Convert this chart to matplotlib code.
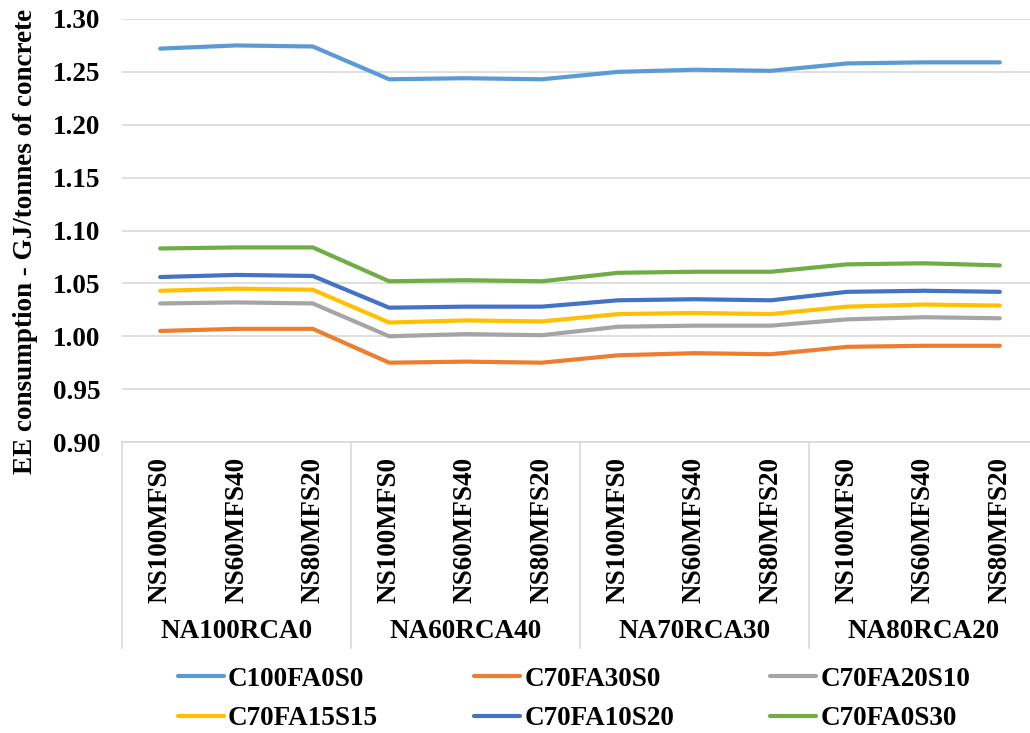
import matplotlib
matplotlib.use("Agg")
import matplotlib.pyplot as plt
import matplotlib.transforms as mtransforms
from matplotlib.lines import Line2D

groups = ["NA100RCA0", "NA60RCA40", "NA70RCA30", "NA80RCA20"]
sands = ["NS100MFS0", "NS60MFS40", "NS80MFS20"]
categories = [s for g in groups for s in sands]

series_names = ["C100FA0S0", "C70FA30S0", "C70FA20S10",
                "C70FA15S15", "C70FA10S20", "C70FA0S30"]
c100fa0s0 = [1.272, 1.275, 1.274, 1.243, 1.244, 1.243, 1.250, 1.252, 1.251, 1.258, 1.259, 1.259]
c70fa30s0 = [1.005, 1.007, 1.007, 0.975, 0.976, 0.975, 0.982, 0.984, 0.983, 0.990, 0.991, 0.991]
c70fa20s10 = [1.031, 1.032, 1.031, 1.000, 1.002, 1.001, 1.009, 1.010, 1.010, 1.016, 1.018, 1.017]
c70fa15s15 = [1.043, 1.045, 1.044, 1.013, 1.015, 1.014, 1.021, 1.022, 1.021, 1.028, 1.030, 1.029]
c70fa10s20 = [1.056, 1.058, 1.057, 1.027, 1.028, 1.028, 1.034, 1.035, 1.034, 1.042, 1.043, 1.042]
c70fa0s30 = [1.083, 1.084, 1.084, 1.052, 1.053, 1.052, 1.060, 1.061, 1.061, 1.068, 1.069, 1.067]
series_values = [c100fa0s0, c70fa30s0, c70fa20s10, c70fa15s15, c70fa10s20, c70fa0s30]
colors = ["#5B9BD5", "#ED7D31", "#A5A5A5", "#FFC000", "#4472C4", "#70AD47"]

yticks = [0.90, 0.95, 1.00, 1.05, 1.10, 1.15, 1.20, 1.25, 1.30]

plt.rcParams['font.family'] = ['Liberation Serif', 'DejaVu Serif']
plt.rcParams['font.weight'] = 'bold'
fs = 19.5
grid_col = "#D9D9D9"

fig = plt.figure(figsize=(10.30, 7.33), dpi=100)
W, H = 1030, 733
ax = fig.add_axes([122 / W, 1 - 442 / H, 916 / W, 423 / H])

x = list(range(len(categories)))
handles = []
for name, vals, col in zip(series_names, series_values, colors):
    h, = ax.plot(x, vals, color=col, lw=3.0, solid_capstyle='round', label=name)
    handles.append(h)

ax.set_xlim(-0.5, len(categories) - 0.5)
ax.set_ylim(0.90, 1.30)
ax.set_yticks(yticks)
ax.set_yticklabels([f"{v:.2f}" for v in yticks], fontsize=fs, fontweight='bold')
ax.yaxis.grid(True, color=grid_col, lw=1.2)
ax.set_axisbelow(True)
ax.tick_params(axis='both', length=0)
ax.tick_params(axis='y', pad=15.5)
ax.set_xticks(x)
ax.set_xticklabels(categories, rotation=90, fontsize=fs, fontweight='bold')
ax.tick_params(axis='x', pad=10.5)

for s in ['top', 'right', 'left']:
    ax.spines[s].set_visible(False)
ax.spines['bottom'].set_color(grid_col)
ax.spines['bottom'].set_linewidth(1.2)

ax.set_ylabel("EE consumption - GJ/tonnes of concrete", fontsize=fs, fontweight='bold')
ax.yaxis.set_label_coords(-0.092, 0.475)

# group separators and group labels
trans = mtransforms.blended_transform_factory(ax.transData, ax.transAxes)
for i in range(len(groups) + 1):
    xs = i * len(sands) - 0.5
    ax.add_line(Line2D([xs, xs], [0, -0.487], transform=trans, color=grid_col,
                       lw=1.2, clip_on=False))
for i, g in enumerate(groups):
    ax.text(i * len(sands) + 1, -0.449, g, transform=trans, ha='center', va='center',
            fontsize=fs, fontweight='bold')

# legend: two rows, three columns (column-first fill order)
order = [0, 3, 1, 4, 2, 5]
fig.legend([handles[i] for i in order], [series_names[i] for i in order],
           ncol=3, loc='center', bbox_to_anchor=(574 / W, 1 - 699 / H),
           frameon=False, prop={'size': fs, 'weight': 'bold'},
           handlelength=1.7, handletextpad=0.15, columnspacing=3.55,
           labelspacing=0.55)

fig.savefig("out.png", dpi=100)
